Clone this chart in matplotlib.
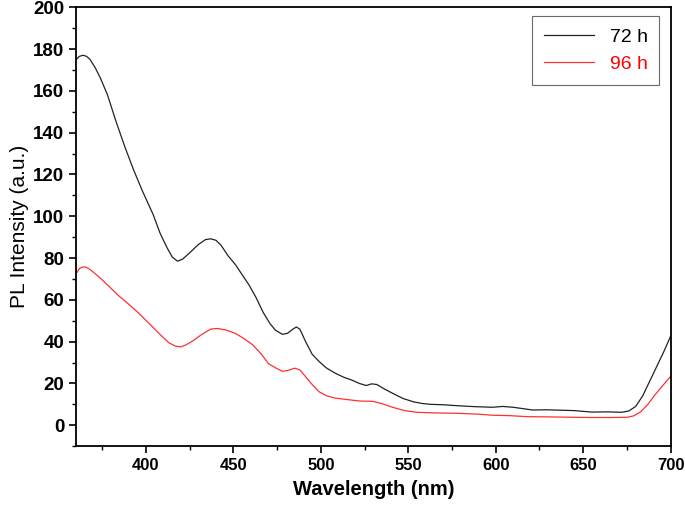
import numpy as np
import matplotlib.pyplot as plt
from matplotlib.ticker import MultipleLocator

plt.rcParams['font.family'] = ['Liberation Sans', 'DejaVu Sans']

# PL spectra (wavelength nm, intensity a.u.)
wl_72h = [360, 362, 364, 366, 368, 371, 374, 378, 383, 388, 393, 398, 404, 408, 412,
          415, 418, 421, 425, 430, 434, 437, 440, 443, 447, 451, 455, 459, 463, 467,
          471, 474, 478, 481, 484, 486, 488, 491, 495, 499, 503, 508, 513, 518, 522,
          526, 529, 532, 536, 541, 547, 553, 558, 563, 570, 579, 588, 598, 604, 610,
          616, 621, 629, 637, 645, 655, 664, 672, 676, 680, 684, 688, 692, 696, 700]
pl_72h = [175.0, 176.5, 177.0, 176.5, 175.0, 171.0, 166.0, 158.0, 145.0, 133.0, 122.0,
          112.0, 101.0, 92.0, 85.0, 80.5, 78.5, 79.5, 82.5, 86.5, 88.8, 89.2, 88.5, 86.0,
          81.0, 77.0, 72.0, 67.0, 61.0, 54.0, 48.5, 45.5, 43.5, 44.0, 46.0, 47.0, 46.0,
          40.5, 34.0, 30.5, 27.5, 25.0, 23.0, 21.5, 20.0, 19.0, 19.8, 19.5, 17.5, 15.3,
          12.8, 11.2, 10.4, 10.0, 9.8, 9.3, 8.9, 8.6, 9.0, 8.6, 7.9, 7.3, 7.4, 7.2, 7.0,
          6.3, 6.4, 6.2, 6.8, 9.0, 14.0, 21.0, 28.0, 35.0, 42.6]

wl_96h = [360, 362, 364, 366, 368, 371, 375, 380, 385, 390, 396, 402, 408, 413, 417,
          420, 423, 427, 432, 437, 441, 446, 451, 456, 461, 466, 470, 474, 478, 481,
          485, 488, 491, 495, 499, 503, 508, 515, 522, 530, 535, 541, 548, 555, 565,
          579, 590, 598, 608, 618, 630, 645, 655, 665, 675, 679, 683, 687, 691, 695, 700]
pl_96h = [72.5, 75.0, 75.8, 75.5, 74.5, 72.5, 69.5, 65.5, 61.5, 58.0, 53.5, 48.5, 43.5,
          39.5, 37.8, 37.5, 38.5, 40.5, 43.5, 46.0, 46.3, 45.5, 44.0, 41.5, 38.5, 34.0,
          29.5, 27.5, 25.8, 26.2, 27.3, 26.5, 23.5, 19.5, 16.0, 14.2, 13.0, 12.3, 11.6,
          11.4, 10.3, 8.6, 7.0, 6.2, 5.9, 5.7, 5.3, 4.8, 4.6, 4.1, 4.0, 3.8, 3.7, 3.7,
          3.8, 4.5, 6.5, 10.0, 14.5, 18.5, 23.4]

fig = plt.figure(figsize=(6.85, 5.14), dpi=100)
ax = fig.add_axes([0.111, 0.132, 0.868, 0.854])

ax.plot(wl_72h, pl_72h, color='#222222', lw=0.9, label='72 h')
ax.plot(wl_96h, pl_96h, color='#ff3030', lw=0.9, label='96 h')

ax.set_xlim(360, 700)
ax.set_ylim(-10, 200)
ax.xaxis.set_major_locator(MultipleLocator(50))
ax.xaxis.set_minor_locator(MultipleLocator(25))
ax.yaxis.set_minor_locator(MultipleLocator(10))
ax.set_yticks(np.arange(0, 201, 20))
ax.tick_params(which='major', length=5, width=1.2, direction='out')
ax.tick_params(axis='x', which='major', labelsize=12)
ax.tick_params(axis='y', which='major', labelsize=13.5)
ax.tick_params(which='minor', length=3, width=1.0, direction='out')
for lab in ax.get_xticklabels() + ax.get_yticklabels():
    lab.set_fontweight('bold')
for sp in ax.spines.values():
    sp.set_linewidth(1.3)

ax.set_xlabel('Wavelength (nm)', fontsize=14.5, fontweight='bold', labelpad=5)
ax.set_ylabel('PL Intensity (a.u.)', fontsize=15, labelpad=3)

leg = ax.legend(loc='upper right', fontsize=14, frameon=True, fancybox=False,
                edgecolor='#444444', handlelength=2.6, borderpad=0.6,
                labelspacing=0.5, borderaxespad=0, bbox_to_anchor=(0.981, 0.979))
leg.get_frame().set_linewidth(0.8)
for txt, col in zip(leg.get_texts(), ['black', 'red']):
    txt.set_color(col)

fig.savefig('out.png', dpi=100)
